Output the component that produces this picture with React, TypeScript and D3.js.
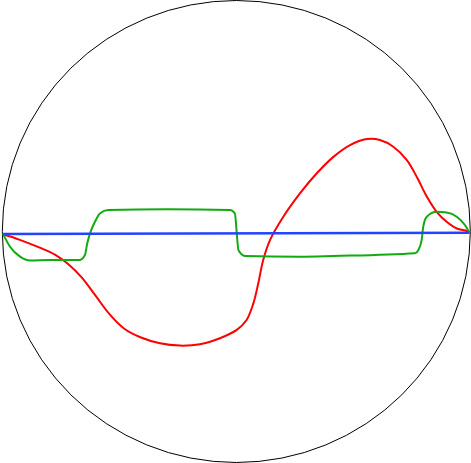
import React from "react";
import * as d3 from "d3";

const W = 471;
const H = 463;

// Diagram data in unit coordinates (u: -1..1 across, v: -1..1 up)
const blueU = [-0.996, 0.996];
const blueV = [-0.011, -0.005];

const redU = [-0.996, -0.925, -0.84, -0.775, -0.72, -0.66, -0.6, -0.54, -0.48, -0.41, -0.326, -0.241, -0.155, -0.07, 0.002, 0.044, 0.073, 0.094, 0.115, 0.144, 0.201, 0.272, 0.344, 0.415, 0.486, 0.558, 0.614, 0.671, 0.728, 0.771, 0.814, 0.856, 0.899, 0.942, 0.985, 0.996];
const redV = [-0.012, -0.036, -0.07, -0.1, -0.14, -0.2, -0.28, -0.36, -0.42, -0.458, -0.484, -0.494, -0.488, -0.462, -0.426, -0.383, -0.311, -0.224, -0.123, -0.037, 0.064, 0.165, 0.252, 0.323, 0.374, 0.4, 0.396, 0.367, 0.31, 0.237, 0.151, 0.085, 0.042, 0.013, 0.002, -0.005];

const greenU = [-0.998, -0.967, -0.924, -0.882, -0.796, -0.668, -0.647, -0.637, -0.625, -0.604, -0.583, -0.547, -0.297, -0.027, -0.006, 0.002, 0.009, 0.037, 0.272, 0.415, 0.764, 0.778, 0.792, 0.799, 0.814, 0.856, 0.899, 0.942, 0.977, 0.996];
const greenV = [-0.008, -0.066, -0.109, -0.126, -0.123, -0.123, -0.102, -0.051, -0.008, 0.042, 0.078, 0.093, 0.096, 0.093, 0.078, -0.008, -0.08, -0.106, -0.109, -0.106, -0.094, -0.08, -0.037, 0.021, 0.064, 0.085, 0.082, 0.064, 0.028, -0.005];

const cx = 236.3;
const cy = 231.5;
const rx = 234;
const ry = 231;

export default function App() {
  const x = d3.scaleLinear().domain([-1, 1]).range([cx - rx, cx + rx]);
  const y = d3.scaleLinear().domain([-1, 1]).range([cy + ry, cy - ry]);
  const mk = (us: number[], vs: number[], curve: d3.CurveFactory) =>
    d3
      .line<number>()
      .x((_, i) => x(us[i]))
      .y((_, i) => y(vs[i]))
      .curve(curve)(us.map((_, i) => i)) || "";

  return (
    <svg
      width={W}
      height={H}
      style={{ position: "fixed", left: 0, top: 0, background: "#fff" }}
    >
      <ellipse cx={cx} cy={cy} rx={rx} ry={ry} fill="none" stroke="#000" strokeWidth={1} />
      <path d={mk(redU, redV, d3.curveCatmullRom.alpha(0.5))} fill="none" stroke="#ff0000" strokeWidth={2} strokeLinejoin="round" />
      <path d={mk(greenU, greenV, d3.curveMonotoneX)} fill="none" stroke="#11aa11" strokeWidth={2} strokeLinejoin="round" />
      <path d={mk(blueU, blueV, d3.curveLinear)} fill="none" stroke="#2244ff" strokeWidth={2.5} />
    </svg>
  );
}
